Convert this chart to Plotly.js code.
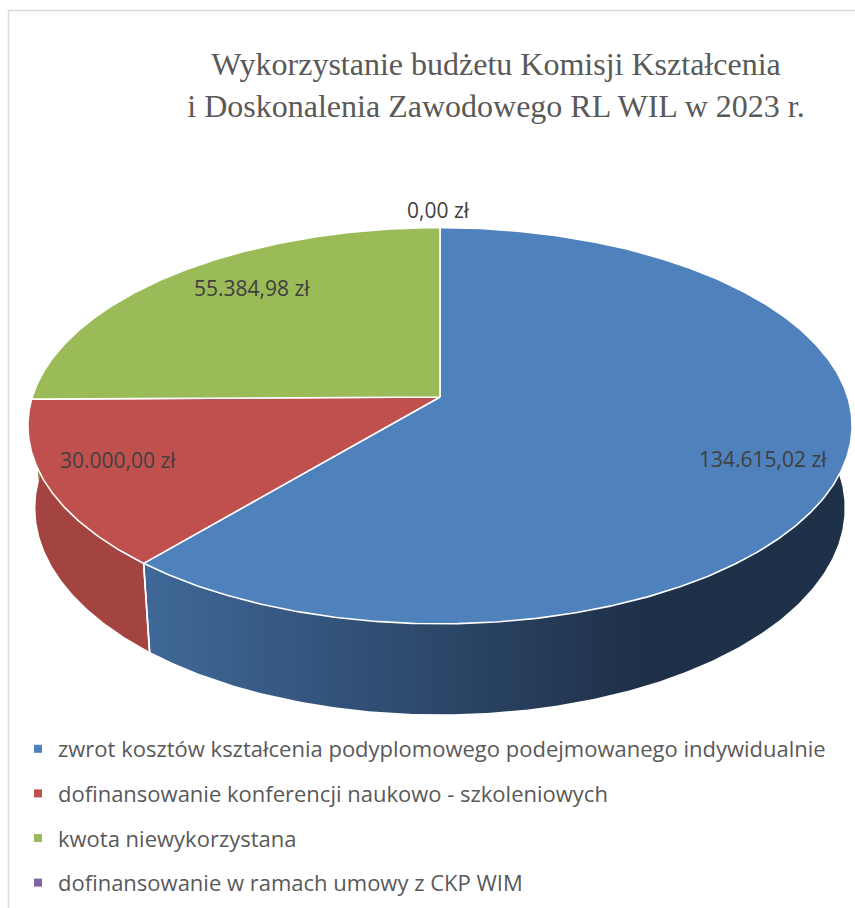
<!DOCTYPE html>
<html><head><meta charset="utf-8">
<script src="https://cdn.plot.ly/plotly-3.0.1.min.js"></script>
<style>html,body{margin:0;padding:0;background:#fff;} #chart{width:855px;height:908px;}</style>
</head><body><div id="chart"></div>
<script>
// ---- data ----
const categories = [
  "zwrot kosztów kształcenia podyplomowego podejmowanego indywidualnie",
  "dofinansowanie konferencji naukowo - szkoleniowych",
  "kwota niewykorzystana",
  "dofinansowanie w ramach umowy z CKP WIM"
];
const values = [134615.02, 30000.00, 55384.98, 0.00];
const titleText = "Wykorzystanie budżetu Komisji Kształcenia<br>i Doskonalenia Zawodowego RL WIL w 2023 r.";

// ---- styles ----
const topColors = ["#4f81bd", "#c0504d", "#9bbb59", "#8064a2"];
const sideGrad = [["#3f6898", "#1f3049"], ["#a34441", "#9a3f3c"], ["#7e9a47", "#6f8a3e"], ["#654f82", "#574470"]];
const labelPos = [[763, 459], [118, 460], [252, 288], [438, 210]];

// ---- 3D projection of the pie disc ----
const cx = 440, cy = 397, F = 2475, D = 6.07, alpha = 28.4 * Math.PI / 180, h = 0.232;
const sA = Math.sin(alpha), cA = Math.cos(alpha);
function proj(theta, r, Y) {
  const u = r * Math.sin(theta), w = r * Math.cos(theta);
  const yc = Y * cA + w * sA;
  const zc = D + w * cA - Y * sA;
  return [cx + F * u / zc, cy - F * yc / zc];
}
function arc(a0, a1, Y) {
  const n = Math.max(2, Math.ceil(Math.abs(a1 - a0) / (0.5 * Math.PI / 180)));
  const pts = [];
  for (let k = 0; k <= n; k++) pts.push(proj(a0 + (a1 - a0) * k / n, 1, Y));
  return pts;
}
function fmt(v) {
  const p = v.toFixed(2).split('.');
  return p[0].replace(/\B(?=(\d{3})+(?!\d))/g, '.') + ',' + p[1] + ' zł';
}

const total = values.reduce((a, b) => a + b, 0);
const slices = [];
let acc = 0;
values.forEach((v, i) => {
  const a0 = acc / total * 2 * Math.PI;
  acc += v;
  const a1 = acc / total * 2 * Math.PI;
  slices.push({ i, a0, a1, v });
});

const sideTraces = [], topTraces = [], legendTraces = [];
const edgeX = [], edgeY = [];
slices.forEach(s => {
  if (s.v <= 0) return;
  const topArc = arc(s.a0, s.a1, 0);
  const botArc = arc(s.a1, s.a0, -h);
  const band = topArc.concat(botArc);
  band.push(topArc[0]);
  sideTraces.push({
    type: 'scatter', mode: 'lines', x: band.map(p => p[0]), y: band.map(p => p[1]),
    fill: 'toself', line: { width: 0, color: 'rgba(0,0,0,0)' },
    fillgradient: { type: 'horizontal', start: 147, stop: 640,
      colorscale: [[0, sideGrad[s.i][0]], [1, sideGrad[s.i][1]]] },
    hoverinfo: 'skip', showlegend: false
  });
  [s.a0, s.a1].forEach(b => {
    if (Math.cos(b) < -0.2) {
      const p = proj(b, 1, 0), q = proj(b, 1, -h);
      edgeX.push(p[0], q[0], null); edgeY.push(p[1], q[1], null);
    }
  });
  const c0 = proj(0, 0, 0);
  const poly = [c0].concat(topArc, [c0]);
  topTraces.push({
    type: 'scatter', mode: 'lines', x: poly.map(p => p[0]), y: poly.map(p => p[1]),
    fill: 'toself', fillcolor: topColors[s.i], line: { width: 1.6, color: '#ffffff' },
    hoverinfo: 'skip', showlegend: false
  });
});
const edgeTrace = { type: 'scatter', mode: 'lines', x: edgeX, y: edgeY,
  line: { color: '#ffffff', width: 1.6 }, hoverinfo: 'skip', showlegend: false };

categories.forEach((c, i) => {
  legendTraces.push({ type: 'scatter', mode: 'markers', x: [null], y: [null], name: c,
    legendgroup: 'g' + i, marker: { symbol: 'square', size: 8, color: topColors[i] } });
});

const annotations = values.map((v, i) => ({
  x: labelPos[i][0], y: labelPos[i][1], xref: 'x', yref: 'y', text: fmt(v), showarrow: false,
  xanchor: 'center', yanchor: 'middle',
  font: { family: 'Open Sans, sans-serif', size: 21, color: '#404040' }
}));

const layout = {
  width: 855, height: 908,
  margin: { l: 0, r: 0, t: 0, b: 0 },
  paper_bgcolor: '#ffffff', plot_bgcolor: '#ffffff',
  title: { text: titleText, x: 496 / 855, xanchor: 'center', xref: 'paper',
    y: 1 - 75 / 908, yref: 'container', yanchor: 'top',
    font: { family: 'Liberation Serif, Times New Roman, serif', size: 32, color: '#595959' } },
  xaxis: { range: [0, 855], visible: false, fixedrange: true },
  yaxis: { range: [908, 0], visible: false, fixedrange: true },
  showlegend: true,
  legend: { x: 18 / 855, xanchor: 'left', y: 1 - 728 / 908, yanchor: 'top',
    font: { family: 'Open Sans, sans-serif', size: 22, color: '#595959' },
    tracegroupgap: 13, itemwidth: 30, bgcolor: 'rgba(0,0,0,0)' },
  shapes: [{ type: 'rect', xref: 'x', yref: 'y', x0: 8.5, y0: 10.5, x1: 900, y1: 950,
    line: { color: '#d9d9d9', width: 1.5 }, layer: 'below' }],
  annotations: annotations,
  hovermode: false
};

Plotly.newPlot('chart', sideTraces.concat([edgeTrace], topTraces, legendTraces), layout,
  { displayModeBar: false, staticPlot: true });
</script>
</body></html>
